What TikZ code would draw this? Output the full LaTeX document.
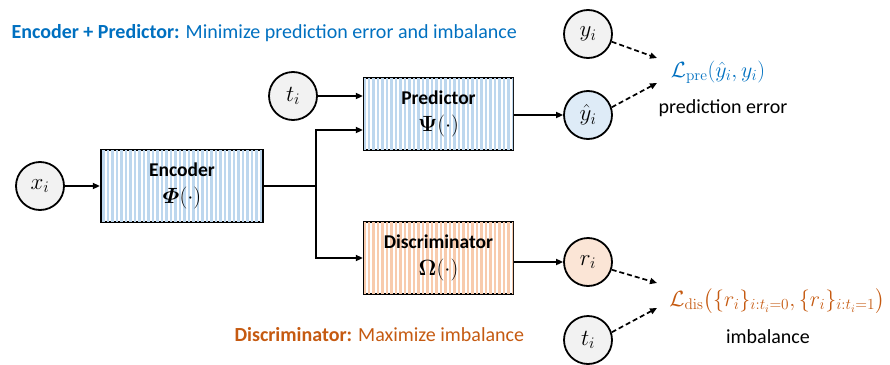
\RequirePackage{fix-cm}
\documentclass[tikz,border=0pt]{standalone}
\usepackage{amsmath,bm}
\usepackage[no-math]{fontspec}
\setmainfont{Carlito}
\usetikzlibrary{arrows.meta,patterns.meta}

\definecolor{stripeblue}{HTML}{BDD7EE}
\definecolor{stripeorange}{HTML}{F8CBAD}
\definecolor{circgray}{HTML}{F2F2F2}
\definecolor{circblue}{HTML}{DEEBF7}
\definecolor{circorange}{HTML}{FBE5D6}
\definecolor{txtblue}{HTML}{0070C0}
\definecolor{txtorange}{HTML}{C55A11}

\newcommand{\blkmath}[1]{{\fontsize{22}{26}\selectfont$#1$}}

\begin{document}
\begin{tikzpicture}[x=1pt, y=-1pt,
      blk/.style={rectangle, draw, line width=2.3pt,
                  minimum height=72pt, minimum width=149pt,
                  align=center, font=\fontsize{19.5}{27}\selectfont\bfseries},
      encblk/.style={blk, fill=white,
                  postaction={pattern={Lines[angle=90, distance=4.5pt, line width=2.2pt]},
                              pattern color=stripeblue}},
      disblk/.style={blk, fill=white,
                  postaction={pattern={Lines[angle=90, distance=4.5pt, line width=2.2pt]},
                              pattern color=stripeorange}},
      var/.style={circle, draw, line width=1.8pt, minimum size=48pt, inner sep=0pt,
                  fill=circgray, font=\fontsize{23}{26}\selectfont},
      arr/.style={-{Triangle[length=7pt, width=6pt]}, line width=1.7pt},
      darr/.style={arr, dashed, dash pattern=on 5pt off 3pt},
      lbl/.style={font=\fontsize{20}{24}\selectfont},
      loss/.style={font=\fontsize{22}{26}\selectfont},
    ]
    \useasboundingbox (0,0) rectangle (890,364);

    % Headings
    \node[lbl, anchor=west, text=txtblue] (hpre) at (8,33)
      {\textbf{Encoder + Predictor:} Minimize prediction error and imbalance};
    \node[lbl, anchor=west, text=txtorange] (hdis) at (231,335)
      {\textbf{Discriminator:} Maximize imbalance};

    % Inputs and blocks
    \node[var] (xi) at (40,186) {$x_i$};
    \node[encblk, minimum width=162pt] (enc) at (182,186) {Encoder\\\blkmath{\bm{\varPhi}(\cdot)}};
    \node[var] (ti) at (293,96) {$t_i$};
    \node[encblk] (pred) at (438.5,114) {Predictor\\\blkmath{\bm{\Psi}(\cdot)}};
    \node[disblk] (disc) at (438.5,258) {Discriminator\\\blkmath{\bm{\Omega}(\cdot)}};

    % Outputs
    \node[var] (yi) at (588,34) {$y_i$};
    \node[var, fill=circblue] (yhat) at (588,115) {$\hat{y}_i$};
    \node[var, fill=circorange] (ri) at (588,262) {$r_i$};
    \node[var] (tb) at (588,340) {$t_i$};

    % Losses
    \node[loss, text=txtblue] (lpre) at (718,72)
      {$\mathcal{L}_{\mathrm{pre}}(\hat{y}_i, y_i)$};
    \node[lbl] (perr) at (723,108) {prediction error};
    \node[loss, text=txtorange] (ldis) at (777,301)
      {$\mathcal{L}_{\mathrm{dis}}\bigl(\{r_i\}_{i:t_i=0},\{r_i\}_{i:t_i=1}\bigr)$};
    \node[lbl] (imb) at (768,337) {imbalance};

    \coordinate (split) at (316,186);
    \coordinate (pre1) at (657,58);
    \coordinate (pre2) at (657,83);
    \coordinate (dis1) at (657,283);
    \coordinate (dis2) at (657,308);

    % Arrows: forward pass
    \draw[arr] (xi) -- (enc);
    \draw[line width=1.7pt] (enc.east) -- (split);
    \draw[arr] (split) |- ([yshift=-16pt]pred.west);
    \draw[arr] (split) |- (disc.west);
    \draw[arr] (ti) -- (ti -| pred.west);
    \draw[arr] (pred.east |- yhat) -- (yhat);
    \draw[arr] (disc.east |- ri) -- (ri);

    % Arrows: losses
    \draw[darr] (yi.-18) -- (pre1);
    \draw[darr] (yhat.18) -- (pre2);
    \draw[darr] (ri.-18) -- (dis1);
    \draw[darr] (tb.18) -- (dis2);

    \end{tikzpicture}
\end{document}
